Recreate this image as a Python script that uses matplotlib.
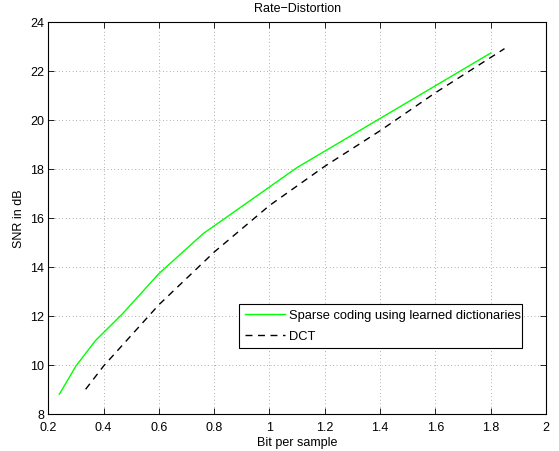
import numpy as np
import matplotlib.pyplot as plt

plt.rcParams['font.family'] = ['Liberation Sans', 'DejaVu Sans']
plt.rcParams['font.size'] = 9

# rate (bits per sample) vs SNR (dB)
rate_sparse = [0.24, 0.30, 0.37, 0.47, 0.60, 0.76, 1.10, 1.80]
snr_sparse = [8.8, 9.95, 10.98, 12.1, 13.72, 15.35, 18.05, 22.72]

rate_dct = [0.335, 0.40, 0.50, 0.60, 0.80, 1.00, 1.20, 1.40, 1.60, 1.85]
snr_dct = [9.0, 9.95, 11.2, 12.45, 14.6, 16.5, 18.1, 19.55, 21.1, 22.9]

fig = plt.figure(figsize=(5.59, 4.52), dpi=100)
ax = fig.add_axes([0.0864, 0.0823, 0.8903, 0.8675])

ax.plot(rate_sparse, snr_sparse, color='#00ff00', lw=1.0,
        label='Sparse coding using learned dictionaries')
ax.plot(rate_dct, snr_dct, color='black', lw=1.0, ls=(0, (5, 4)), label='DCT')

ax.set_xlim(0.2, 2)
ax.set_ylim(8, 24)
ax.set_xticks(np.arange(0.2, 2.01, 0.2))
ax.set_xticklabels(['0.2', '0.4', '0.6', '0.8', '1', '1.2', '1.4', '1.6', '1.8', '2'])
ax.set_yticks(np.arange(8, 25, 2))

# matlab-ish look: inward ticks on every side, dotted grid
ax.tick_params(direction='in', top=True, right=True, length=4, width=0.6, pad=3)
ax.tick_params(axis='x', pad=5)
ax.grid(True, color='black', ls=(0, (1, 4)), lw=0.5, alpha=0.6)
for s in ax.spines.values():
    s.set_linewidth(0.8)

ax.set_title('Rate\u2212Distortion', fontsize=9, pad=8)
ax.set_xlabel('Bit per sample', labelpad=2)
ax.set_ylabel('SNR in dB', labelpad=4)

leg = ax.legend(loc='lower left', bbox_to_anchor=(0.4276, 0.2272, 0.507, 0.104),
                bbox_transform=fig.transFigure, mode='expand', fancybox=False,
                edgecolor='black', framealpha=1, handlelength=3.1,
                borderpad=0.45, borderaxespad=0, labelspacing=0.7,
                handletextpad=0.35, fontsize=9.3)
leg.get_frame().set_linewidth(0.8)

fig.savefig('out.png', dpi=100)
